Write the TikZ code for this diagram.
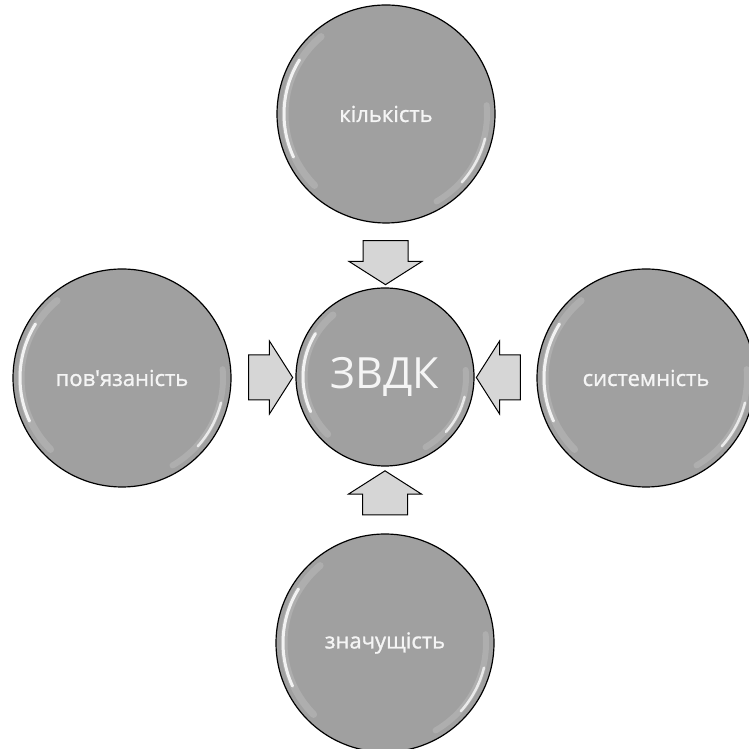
\documentclass[tikz,border=0pt]{standalone}
\usepackage{fontspec}
\setmainfont{Open Sans}
\newfontfamily\bubblefont{Open Sans}[RawFeature={embolden=1.2}]
\usepackage{tikz}
\usetikzlibrary{shapes.arrows,positioning,calc}
\definecolor{bgrey}{RGB}{160,160,160}
\definecolor{agrey}{RGB}{214,214,214}
\tikzstyle{bubble} = [circle, draw=black, line width=1.2pt, fill=bgrey, text=white!96!black, minimum size=218pt, inner sep=0pt, font=\bubblefont\fontsize{22}{26}\selectfont]
\tikzstyle{blockarrow} = [single arrow, draw=black, line width=1pt, fill=agrey, minimum height=44pt, single arrow head extend=14pt, single arrow tip angle=115, single arrow head indent=0pt]
\tikzstyle{harrow} = [blockarrow, inner xsep=0pt, inner ysep=22pt]
\tikzstyle{varrow} = [blockarrow, inner xsep=22pt, inner ysep=0pt]
\tikzstyle{gloss} = [white, line cap=round]

\begin{document}
\begin{tikzpicture}[x=1pt, y=1pt]
\useasboundingbox (0,0) rectangle (748,749);

% Center circle
\node[bubble, minimum size=178pt, font=\fontsize{43}{50}\selectfont] (zvdk) at (385,372) {ЗВДК};

% Outer circles
\node[bubble] (kilkist) at (386,635) {кількість};
\node[bubble] (povyaz) at (122,371) {пов'язаність};
\node[bubble] (system) at (646,371) {системність};
\node[bubble] (znach) at (385,106) {значущість};

% Glossy highlights
\foreach \n/\r in {zvdk/89, kilkist/109, povyaz/109, system/109, znach/109} {
  \draw[gloss, line width=7pt, opacity=0.15] ([shift={(130:\r-8)}]\n.center) arc[start angle=130, end angle=225, radius=\r-8];
  \draw[gloss, line width=3pt, opacity=0.85] ([shift={(148:\r-7)}]\n.center) arc[start angle=148, end angle=205, radius=\r-7];
  \draw[gloss, line width=6pt, opacity=0.15] ([shift={(-60:\r-8)}]\n.center) arc[start angle=-60, end angle=5, radius=\r-8];
  \draw[gloss, line width=2.5pt, opacity=0.75] ([shift={(-42:\r-7)}]\n.center) arc[start angle=-42, end angle=-14, radius=\r-7];
}

% Arrows
\node[varrow, shape border rotate=270] (adown) at ($(kilkist.south)!0.5!(zvdk.north)$) {};
\node[varrow, shape border rotate=90] (aup) at ($(znach.north)!0.5!(zvdk.south)$) {};
\node[harrow, shape border rotate=0] (aright) at ($(povyaz.east)!0.5!(zvdk.west)$) {};
\node[harrow, shape border rotate=180] (aleft) at ($(system.west)!0.5!(zvdk.east)$) {};
\end{tikzpicture}
\end{document}
